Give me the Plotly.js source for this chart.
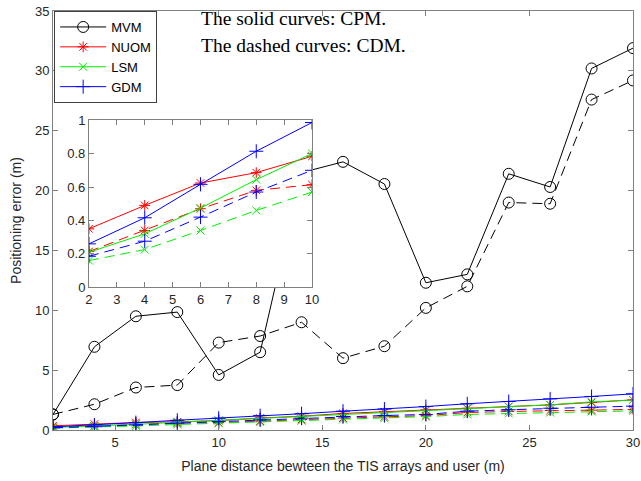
<!DOCTYPE html>
<html>
<head>
<meta charset="utf-8">
<script src="https://cdn.plot.ly/plotly-3.0.1.min.js"></script>
<style>html,body{margin:0;padding:0;background:#fff;}#chart{width:641px;height:481px;}</style>
</head>
<body>
<div id="chart"></div>
<script>
// Data
var xMain = [2,4,6,8,10,12,14,16,18,20,22,24,26,28,30];
var mvmCPM = [1.3,6.95,9.5,9.85,4.6,6.5,21.5,22.4,20.55,12.3,13.0,21.4,20.3,30.2,31.9];
var mvmCDM = [1.3,2.15,3.55,3.75,7.3,7.85,9.0,6.0,7.0,10.2,12.0,19.0,18.9,27.6,29.2];
var nuomCPM = [0.35,0.49,0.624,0.686,0.784,1.0,1.15,1.38,1.52,1.68,1.82,1.96,2.1,2.3,2.52];
var lsmCPM  = [0.21,0.32,0.474,0.644,0.80,0.95,1.1,1.3,1.47,1.62,1.78,1.95,2.1,2.35,2.5];
var gdmCPM  = [0.26,0.416,0.616,0.814,0.986,1.2,1.36,1.57,1.75,1.96,2.19,2.38,2.6,2.8,3.02];
var nuomCDM = [0.214,0.34,0.47,0.58,0.614,0.75,0.88,1.0,1.1,1.2,1.46,1.55,1.63,1.66,1.72];
var lsmCDM  = [0.16,0.226,0.34,0.46,0.57,0.68,0.78,0.88,0.98,1.12,1.3,1.38,1.46,1.55,1.6];
var gdmCDM  = [0.186,0.276,0.42,0.57,0.70,0.85,0.99,1.13,1.21,1.3,1.57,1.69,1.82,1.9,1.99];
var insetN = 5; // x = 2..10 shown in the inset
var names = ['MVM','NUOM','LSM','GDM'];
var xTickMain = [5,10,15,20,25,30];
var yTickMain = [0,5,10,15,20,25,30,35];
var xTickInset = [2,3,4,5,6,7,8,9,10];
var yTickInset = [0,0.2,0.4,0.6,0.8,1];
var yTickInsetText = ['0','0.2','0.4','0.6','0.8','1'];
var notes = ['The solid curves: CPM.','The dashed curves: CDM.'];

var DASH = '10px,6px';
var series = [
  {name:'MVM', cpm:mvmCPM, cdm:mvmCDM, color:'#000000', symbol:'circle-open', size:11, inset:false},
  {name:'NUOM', cpm:nuomCPM, cdm:nuomCDM, color:'#ff0000', symbol:'asterisk-open', size:9, inset:true},
  {name:'LSM', cpm:lsmCPM, cdm:lsmCDM, color:'#00ee00', symbol:'x-thin-open', size:8, inset:true},
  {name:'GDM', cpm:gdmCPM, cdm:gdmCDM, color:'#0000ff', symbol:'cross-thin-open', size:10, inset:true}
];
var traces = [];
series.forEach(function(s){
  traces.push({x:xMain, y:s.cpm, type:'scatter', mode:'lines+markers', name:s.name,
    line:{color:s.color, width:1}, marker:{symbol:s.symbol, size:s.size, color:s.color, line:{color:s.color, width:1}},
    xaxis:'x', yaxis:'y', showlegend:true});
  traces.push({x:xMain, y:s.cdm, type:'scatter', mode:'lines+markers', name:s.name,
    line:{color:s.color, width:1, dash:DASH}, marker:{symbol:s.symbol, size:s.size, color:s.color, line:{color:s.color, width:1}},
    xaxis:'x', yaxis:'y', showlegend:false});
});
series.forEach(function(s){
  if(!s.inset) return;
  traces.push({x:xMain.slice(0,insetN), y:s.cpm.slice(0,insetN), type:'scatter', mode:'lines+markers',
    line:{color:s.color, width:1}, marker:{symbol:s.symbol, size:s.size, color:s.color, line:{color:s.color, width:1}},
    xaxis:'x2', yaxis:'y2', showlegend:false});
  traces.push({x:xMain.slice(0,insetN), y:s.cdm.slice(0,insetN), type:'scatter', mode:'lines+markers',
    line:{color:s.color, width:1, dash:DASH}, marker:{symbol:s.symbol, size:s.size, color:s.color, line:{color:s.color, width:1}},
    xaxis:'x2', yaxis:'y2', showlegend:false});
});

var AX = '#808080';
var TF = {family:'Liberation Sans, Arial, sans-serif', size:13, color:'#262626'};
var axBase = {showline:true, linecolor:AX, linewidth:1, mirror:'ticks', ticks:'inside', ticklen:5, tickcolor:AX,
  showgrid:false, zeroline:false, tickfont:TF, fixedrange:true};

var layout = {
  width:641, height:481,
  margin:{l:53, r:8, t:11, b:51, pad:0},
  paper_bgcolor:'#ffffff', plot_bgcolor:'#ffffff',
  showlegend:true,
  legend:{x:0.002, y:1, xanchor:'left', yanchor:'top', bgcolor:'#ffffff', bordercolor:'#404040', borderwidth:1,
    font:{family:'Liberation Sans, Arial, sans-serif', size:13, color:'#000'}, tracegroupgap:0, itemwidth:46},
  xaxis: Object.assign({}, axBase, {range:[2,30], domain:[0,1], anchor:'y', tickmode:'array', tickvals:xTickMain,
    title:{text:'Plane distance bewteen the TIS arrays and user (m)', font:{family:'Liberation Sans, Arial, sans-serif', size:14, color:'#262626'}, standoff:12}}),
  yaxis: Object.assign({}, axBase, {range:[0,35], domain:[0,1], anchor:'x', tickmode:'array', tickvals:yTickMain,
    title:{text:'Positioning error (m)', font:{family:'Liberation Sans, Arial, sans-serif', size:14, color:'#262626'}, standoff:10}}),
  xaxis2: Object.assign({}, axBase, {range:[2,10], domain:[0.062,0.4466], anchor:'y2', tickmode:'array', tickvals:xTickInset}),
  yaxis2: Object.assign({}, axBase, {range:[0,1], domain:[0.3405,0.7395], anchor:'x2', tickmode:'array', tickvals:yTickInset, ticktext:yTickInsetText}),
  annotations: notes.map(function(t,i){
    var ypix = 18 + i*27;
    return {text:t, xref:'paper', yref:'paper', x:(199-53)/580, y:(430-ypix)/419, xanchor:'left', yanchor:'middle',
      showarrow:false, font:{family:'Liberation Serif, Times New Roman, serif', size:19.5, color:'#000'}};
  })
};
Plotly.newPlot('chart', traces, layout, {staticPlot:true, displayModeBar:false});
</script>
</body>
</html>
